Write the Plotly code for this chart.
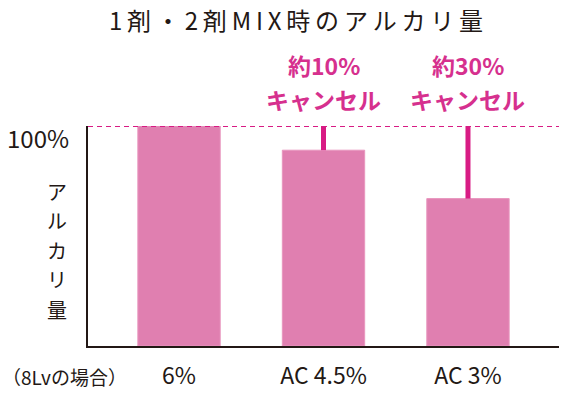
import plotly.graph_objects as go

categories = ["6%", "AC 4.5%", "AC 3%"]
alkali = [100, 89, 67]
cancel_pct = ["", "約10%", "約30%"]
cancel_word = ["", "キャンセル", "キャンセル"]
title_text = "1剤・2剤MIX時のアルカリ量"
ylabel_chars = list("アルカリ量")
note_text = "（8Lvの場合）"
top_label = "100%"

W, H = 573, 393
L, R, T, B = 88, 14, 126, 47
pw, ph = W - L - R, H - T - B

BAR = "#E07FB0"
MAG = "#D81B84"
TXT = "#231815"
FONT = "Noto Sans CJK JP"
THIN = "\u2009"

def px_x(px):
    return (px - L) / pw

def px_y(py):
    return (H - B - py) / ph

fig = go.Figure()
fig.add_trace(go.Bar(
    x=categories, y=alkali, width=0.57,
    marker=dict(color=BAR, line=dict(width=1, color="#E896BE")),
    error_y=dict(type="data", symmetric=False,
                 array=[100 - v for v in alkali], arrayminus=[0] * len(alkali),
                 color=MAG, thickness=5, width=0),
    hoverinfo="skip",
))

fig.add_shape(type="line", xref="paper", yref="y", x0=0, x1=1, y0=100, y1=100,
              line=dict(color=MAG, width=2, dash="5px,4px"), layer="above")

anns = []
anns.append(dict(text=THIN.join(title_text), xref="paper", yref="paper", x=px_x(296), y=px_y(19),
                 showarrow=False, font=dict(family=FONT, size=24, color=TXT),
                 xanchor="center", yanchor="middle"))
for c, p, w in zip(categories, cancel_pct, cancel_word):
    if p:
        anns.append(dict(text="<b>" + p + "</b>", x=c, xref="x", yref="paper", y=px_y(65),
                         showarrow=False, xanchor="center", yanchor="middle",
                         font=dict(family=FONT, size=23, color="#D6308E")))
        anns.append(dict(text="<b>" + w + "</b>", x=c, xref="x", yref="paper", y=px_y(99),
                         showarrow=False, xanchor="center", yanchor="middle",
                         font=dict(family=FONT, size=23, color="#D6308E")))
anns.append(dict(text=top_label, xref="paper", yref="y", x=px_x(71), y=100, xanchor="right",
                 yanchor="middle", showarrow=False, font=dict(family=FONT, size=24, color=TXT),
                 yshift=-11))
for i, ch in enumerate(ylabel_chars):
    anns.append(dict(text=ch, xref="paper", yref="paper", x=px_x(57), y=px_y(191 + i * 29.5),
                     xanchor="center", yanchor="middle", showarrow=False,
                     font=dict(family=FONT, size=20, color=TXT)))
anns.append(dict(text=note_text, xref="paper", yref="paper", x=px_x(0), y=px_y(376),
                 xanchor="left", yanchor="middle", showarrow=False,
                 font=dict(family=FONT, size=19, color=TXT)))

fig.update_layout(
    width=W, height=H,
    margin=dict(l=L, r=R, t=T, b=B),
    paper_bgcolor="white", plot_bgcolor="white",
    showlegend=False,
    annotations=anns,
    xaxis=dict(range=[-0.63, 2.63], showline=True, linecolor=TXT, linewidth=1.5,
               ticks="", showgrid=False, zeroline=False, ticklabelstandoff=9,
               automargin=False,
               tickfont=dict(family=FONT, size=23, color=TXT)),
    yaxis=dict(range=[0, 100], showline=True, linecolor=TXT, linewidth=1.5,
               automargin=False,
               showticklabels=False, ticks="", showgrid=False, zeroline=False),
)

fig.write_html("out.html", config={"displayModeBar": False},
               post_script="document.body.style.margin='0';document.body.style.overflow='hidden';")
